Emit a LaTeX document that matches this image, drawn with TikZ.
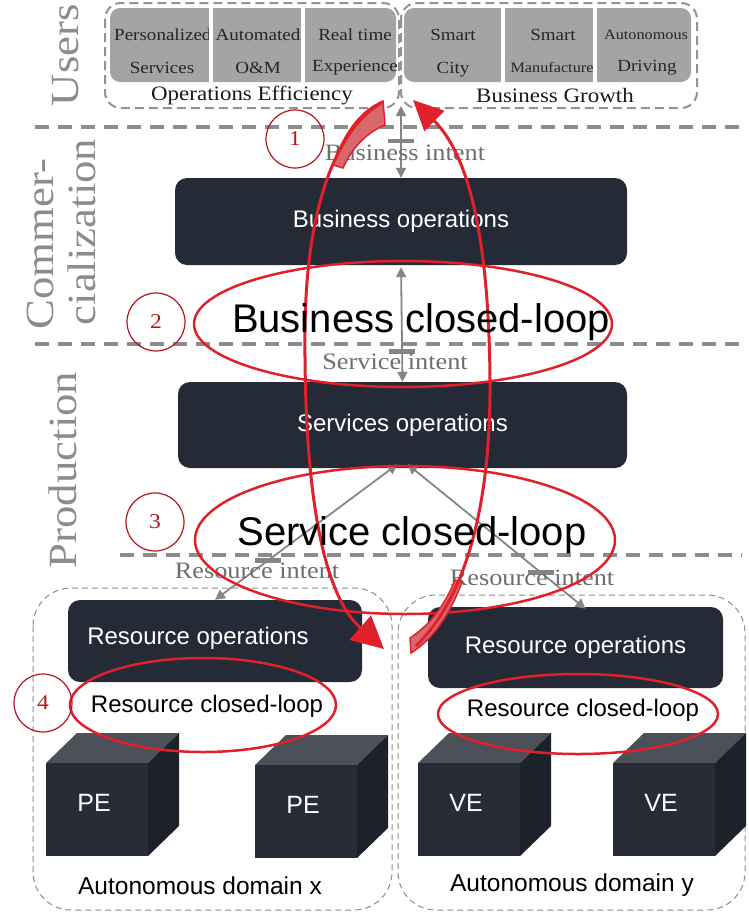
\documentclass[tikz,border=0pt]{standalone}
\usepackage{fontspec}
\setmainfont{Liberation Serif}[FakeStretch=1.12]
\setsansfont{Liberation Sans}
\usetikzlibrary{arrows.meta,calc}

\definecolor{opsdark}{HTML}{252B36}
\definecolor{cellgray}{HTML}{A4A4A4}
\definecolor{layergray}{HTML}{8C8C8C}
\definecolor{loopred}{HTML}{E0202A}
\definecolor{numred}{HTML}{B8141E}
\definecolor{tailred}{HTML}{D8686C}
\definecolor{cubetop}{HTML}{4B5059}
\definecolor{cubefront}{HTML}{272C36}
\definecolor{cubeside}{HTML}{1D2129}
\definecolor{intentgray}{HTML}{6E6E6E}
\definecolor{conngray}{HTML}{858585}

\newcommand{\setsz}[1]{\fontsize{#1}{#1}\selectfont}

% a dark 3-D box: name, front-face top-left x, y, label
\newcommand{\edgecube}[4]{%
  \fill[cubetop] (#2,#3) -- ++(31,-30) -- ++(102,0) -- ++(-31,30) -- cycle;
  \fill[cubeside] (#2+102,#3) -- ++(31,-30) -- ++(0,93) -- ++(-31,30) -- cycle;
  \fill[cubefront] (#2,#3) rectangle ++(102,93);
  \node[cubelabel] (#1) at (#2+48,#3+40) {#4};
}

\begin{document}
\begin{tikzpicture}[x=1pt,y=-1pt,
  opbox/.style={fill=opsdark, rounded corners=12pt, text=white, font=\sffamily\setsz{24}, inner sep=0pt},
  optext/.style={text=white, font=\sffamily\setsz{24}, inner sep=0pt},
  layerlabel/.style={rotate=90, text=layergray, font=\setsz{40}, inner sep=0pt},
  layerline/.style={draw=layergray, line width=3.5pt, dash pattern=on 14pt off 9pt},
  intent/.style={text=intentgray, font=\setsz{23.5}, inner sep=0pt},
  gconn/.style={draw=conngray, line width=1.8pt, {Triangle[width=10pt,length=10pt]}-{Triangle[width=10pt,length=10pt]}},
  breakbar/.style={fill=conngray, minimum width=26pt, minimum height=4.5pt, inner sep=0pt},
  loopline/.style={draw=loopred, line width=2.5pt},
  looptext/.style={font=\sffamily\setsz{40}, inner sep=0pt},
  restext/.style={font=\sffamily\setsz{24}, inner sep=0pt},
  numc/.style={circle, draw=numred, line width=1.2pt, minimum size=58pt, inner sep=0pt, text=numred, font=\setsz{21}},
  domainbox/.style={draw=gray!90, line width=1pt, dash pattern=on 6pt off 4pt, rounded corners=38pt},
  usersbox/.style={draw=gray!85, line width=2pt, dash pattern=on 9pt off 5pt, rounded corners=16pt},
  cellbox/.style={fill=cellgray, rounded corners=10pt},
  cellsep/.style={draw=white, line width=4.5pt},
  cell/.style={font=\setsz{17}, text=black!85, inner sep=0pt},
  smallcell/.style={font=\setsz{14.5}, text=black!85, inner sep=0pt},
  grouptext/.style={font=\setsz{20.5}, text=black!90, inner sep=0pt},
  cubelabel/.style={text=white, font=\sffamily\setsz{25}, inner sep=0pt},
  domaintext/.style={font=\sffamily\setsz{24.5}, inner sep=0pt},
  redarc/.style={draw=loopred, line width=3pt},
  redtail/.style={fill=tailred, draw=loopred, line width=1.5pt}
]
\useasboundingbox (0,0) rectangle (749,913);

% layer separators
\draw[layerline] (35,127) -- (742,127);
\draw[layerline] (35,344) -- (742,344);
\draw[layerline] (120,555) -- (742,555);

% layer names
\node[layerlabel] (lusers) at (66,55) {Users};
\node[layerlabel] (lcomm1) at (40,244) {Commer-};
\node[layerlabel] (lcomm2) at (82,232) {cialization};
\node[layerlabel] (lprod) at (63,470) {Production};

% user groups
\draw[usersbox] (105,3) rectangle (399,108);
\draw[usersbox] (401,3) rectangle (697,108);
\fill[cellbox] (110,8) rectangle (396,82);
\fill[cellbox] (404,8) rectangle (691,82);
\node[cell, anchor=west] (c1a) at (114,35) {Personalized};
\node[cell] (c1b) at (162,68) {Services};
\node[cell] (c2a) at (258,35) {Automated};
\node[cell] (c2b) at (258,68) {O\&M};
\node[cell] (c3a) at (355,35) {Real time};
\node[cell] (c3b) at (355,68) {Experience};
\node[cell] (c4a) at (453,35) {Smart};
\node[cell] (c4b) at (453,70) {City};
\node[cell] (c5a) at (553,35) {Smart};
\node[smallcell] (c5b) at (552,67) {Manufacture};
\node[smallcell] (c6a) at (646,35) {Autonomous};
\node[cell] (c6b) at (647,68) {Driving};
\foreach \sx in {211,303,503,595} \draw[cellsep] (\sx,8) -- (\sx,82);
\node[grouptext] (opeff) at (252,95) {Operations Efficiency};
\node[grouptext] (bgrow) at (555,95) {Business Growth};
\coordinate (ujunc) at (401,106);

% autonomous domains
\draw[domainbox] (33,588) rectangle (392,910);
\draw[domainbox] (398,595) rectangle (745,910);

% operation boxes
\node[opbox, minimum width=452pt, minimum height=87pt] (bizops) at (401,221.5) {Business operations};
\node[opbox, minimum width=449pt, minimum height=86pt] (svcops) at (402.5,425) {Services operations};
\node[opbox, minimum width=294pt, minimum height=82pt] (resx) at (215,641) {};
\node[optext] (resxt) at (198,638) {Resource operations};
\node[opbox, minimum width=295pt, minimum height=81pt] (resy) at (575.5,647.5) {Resource operations};

% network elements
\edgecube{pe1}{46}{763}{PE}
\edgecube{pe2}{255}{765}{PE}
\edgecube{ve1}{418}{763}{VE}
\edgecube{ve2}{613}{763}{VE}
\node[domaintext] (domx) at (200,886) {Autonomous domain x};
\node[domaintext] (domy) at (572,885) {Autonomous domain y};

% intent connectors
\draw[gconn] (ujunc) -- node[breakbar, pos=0.49] (bar1) {} (bizops.north);
\draw[gconn, shorten <=2pt] (bizops.south) -- node[breakbar, pos=0.74] (bar2) {} (svcops.north);
\draw[gconn] ([xshift=-5pt,yshift=4pt]svcops.south) -- node[breakbar, pos=0.71] (bar3) {} (resx.north);
\draw[gconn] ([xshift=5pt,yshift=4pt]svcops.south) -- node[breakbar, pos=0.75] (bar4) {} ([xshift=10pt,yshift=-2pt]resy.north);
\node[intent] (bint) at (405,153) {Business intent};
\node[intent] (sint) at (395,362) {Service intent};
\node[intent] (rintx) at (257,571) {Resource intent};
\node[intent] (rinty) at (532,578) {Resource intent};

% closed loops
\draw[loopline] (403,324) ellipse [x radius=209pt, y radius=63pt];
\draw[loopline] (405,540) ellipse [x radius=210pt, y radius=74pt];
\draw[loopline] (203,705) ellipse [x radius=133pt, y radius=47pt];
\draw[loopline] (578,714) ellipse [x radius=140pt, y radius=40pt];

% end-to-end loop between users and resources
\fill[redtail] (383,101) .. controls (362,110) and (345,130) .. (333,165) -- (343,168) .. controls (352,148) and (366,133) .. (385,125) -- cycle;
\draw[redarc, -{Triangle[width=32pt,length=32pt]}] (383,102) .. controls (340,125) and (306,200) .. (305,330) .. controls (304,470) and (318,590) .. (384,649);
\fill[redtail] (411,653) .. controls (432,640) and (450,615) .. (462,582) -- (455,580) .. controls (445,605) and (430,625) .. (410,638) -- cycle;
\draw[redarc, -{Triangle[width=28pt,length=30pt]}] (416,646) .. controls (468,595) and (491,500) .. (490,380) .. controls (489,250) and (472,158) .. (413,100);

% loop names
\node[looptext] (bloop) at (421,322) {Business closed-loop};
\node[looptext] (sloop) at (412,535) {Service closed-loop};
\node[restext] (rloopx) at (207,706) {Resource closed-loop};
\node[restext] (rloopy) at (583,710) {Resource closed-loop};

% step numbers
\node[numc] (n1) at (295,139) {1};
\node[numc] (n2) at (156,322) {2};
\node[numc] (n3) at (155,522) {3};
\node[numc] (n4) at (43,703) {4};
\end{tikzpicture}
\end{document}
